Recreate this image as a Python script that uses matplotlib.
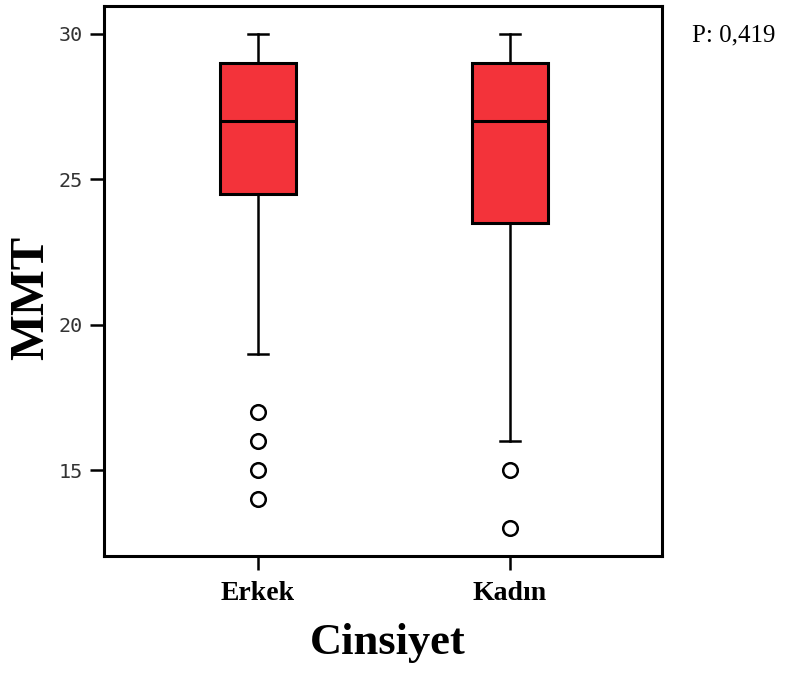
import matplotlib
matplotlib.use("Agg")
import matplotlib.pyplot as plt

# values
groups = ["Erkek", "Kadın"]
whislo = [19, 16]
q1 = [24.5, 23.5]
medians = [27, 27]
q3 = [29, 29]
whishi = [30, 30]
outliers = [[17, 16, 15, 14], [15, 13]]
yticks = [15, 20, 25, 30]

stats = []
for i in range(len(groups)):
    stats.append(dict(label=groups[i], whislo=whislo[i], q1=q1[i], med=medians[i],
                      q3=q3[i], whishi=whishi[i], fliers=outliers[i]))

fig = plt.figure(figsize=(7.9, 6.73), dpi=100)
ax = fig.add_axes([0.1316, 0.1738, 0.7064, 0.8173])

ax.bxp(stats, positions=[1, 2], widths=0.30, patch_artist=True, capwidths=0.08,
       boxprops=dict(facecolor="#F3333A", edgecolor="black", linewidth=2.2),
       medianprops=dict(color="black", linewidth=2.2),
       whiskerprops=dict(color="black", linewidth=1.8),
       capprops=dict(color="black", linewidth=1.8),
       flierprops=dict(marker="o", markerfacecolor="white", markeredgecolor="black",
                       markersize=10.5, markeredgewidth=1.8))

ax.set_xlim(0.389, 2.603)
ax.set_ylim(12.05, 30.96)
ax.set_yticks(yticks)
ax.set_yticklabels([str(t) for t in yticks], fontfamily="DejaVu Sans Mono",
                   fontsize=14.5, color="#333333")
ax.set_xticks([1, 2])
ax.set_xticklabels(groups, fontfamily="Liberation Serif", fontweight="bold", fontsize=20)
ax.tick_params(axis="both", direction="out", length=10, width=1.8, color="black")
ax.tick_params(axis="y", pad=5)
ax.tick_params(axis="x", pad=8)
for s in ax.spines.values():
    s.set_linewidth(2.2)

# axis titles placed in figure coords
fig.text(31 / 790, 1 - 298 / 673, "MMT", rotation=90, ha="center", va="center",
         fontfamily="Liberation Serif", fontweight="bold", fontsize=35)
fig.text(388 / 790, 1 - 643 / 673, "Cinsiyet", ha="center", va="center",
         fontfamily="Liberation Serif", fontweight="bold", fontsize=32)

fig.text(692 / 790, 1 - 35 / 673, "P: 0,419", va="center",
         fontfamily="Liberation Serif", fontsize=18)

fig.savefig("out.png", dpi=100)
